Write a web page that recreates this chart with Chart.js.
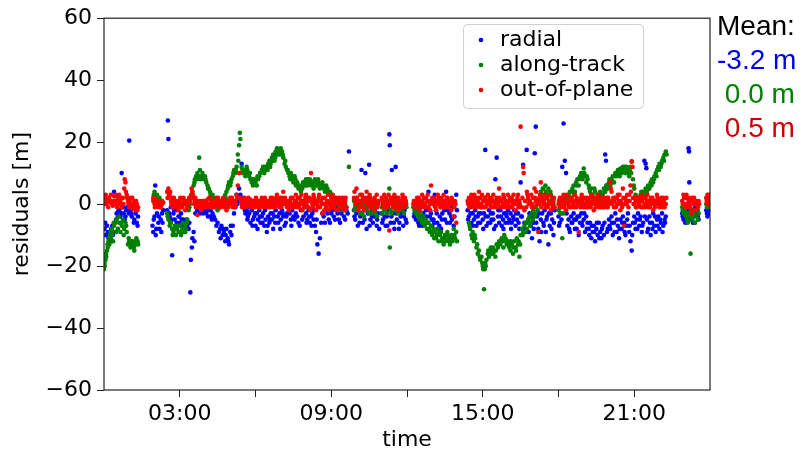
<!DOCTYPE html>
<html>
<head>
<meta charset="utf-8">
<script src="https://cdn.jsdelivr.net/npm/chart.js@4.4.0/dist/chart.umd.min.js"></script>
<style>
html, body { margin: 0; padding: 0; background: #fff; }
#wrap { position: relative; width: 802px; height: 457px; }
#mean { position: absolute; left: 717px; top: 9px; font-family: "Liberation Sans", Arial, sans-serif;
        font-size: 28px; line-height: 34px; white-space: pre; }
</style>
</head>
<body>
<div id="wrap">
  <canvas id="chartcanvas" width="802" height="457"></canvas>
  <div id="mean"></div>
</div>
<script>
// [hour, residual m]
const radialPts = [
  [0.02,-8],[0.08,-10],[0.12,-7],[0.18,-11],[0.22,-9],[0.28,-8],[0.3,-12],[0.35,-10],[0.4,4],[0.45,-9],
  [0.5,-3],[0.55,-4],[0.6,-2],[0.65,-4],[0.7,10],[0.72,-1],[0.78,-3],[0.82,-5],[0.88,-2],[0.92,-1],
  [0.98,-3],[1.0,20.5],[1.05,-2],[1.1,-4],[1.15,-1],[1.2,-5],[1.25,-3],[1.3,-6],[1.35,-4],
  [1.92,-7],[1.95,-9],[2.0,-4],[2.03,6],[2.05,-10],[2.1,-3],[2.15,-6],[2.2,-8],[2.25,-5],[2.3,-3],[2.35,-2],
  [2.53,27],[2.55,21],[2.5,-2],[2.6,-4],[2.65,-1],[2.7,-16.5],[2.75,-3],[2.8,-5],[2.9,-2],[2.95,-4],
  [3.0,-6],[3.05,-3],[3.1,-7],[3.15,-5],[3.2,-8],[3.25,-6],[3.3,-7],[3.35,-8],[3.42,-28.5],[3.44,-18],
  [3.48,-14],[3.5,-11],[3.55,-9],[3.58,-12],[3.65,-1],[3.7,-2],[3.75,0],[3.8,-3],[3.85,-1],[3.9,-2],
  [3.95,1],[4.0,-2],[4.05,-3],[4.1,-1],[4.15,-2],[4.2,-4],[4.3,-3],[4.4,-5],[4.5,-6],[4.6,-8],
  [4.65,-7],[4.7,-10],[4.75,-9],[4.8,-12],[4.85,-8],[4.9,-11],[4.95,-13],[5.0,-9],[5.05,-10],[5.1,-7],
  [5.2,-1],[5.25,3],[5.3,1],[5.35,5],[5.45,13],[5.5,2],[5.55,-1],[5.6,-3],
  [5.65,-2],[5.7,-4],[5.75,-3],[5.8,-6],[5.85,-2],[5.9,-5],[5.95,-4],[6.0,-7],[6.05,-3],[6.1,-5],
  [6.15,-2],[6.2,-6],[6.25,-4],[6.3,-3],[6.35,-7],[6.4,-5],[6.45,-9],[6.5,-4],[6.55,-6],[6.6,-3],
  [6.65,-5],[6.7,-8],[6.75,-4],[6.8,-2],[6.84,16],[6.9,-6],[6.95,-3],
  [7.0,-5],[7.05,-2],[7.1,-4],[7.2,-6],[7.25,-3],[7.3,-1],[7.4,-5],[7.45,-2],[7.5,-4],[7.6,-3],
  [7.7,-6],[7.8,-2],[7.9,-4],[8.0,-3],[8.05,-5],[8.1,-2],[8.15,-6],[8.2,-4],[8.25,-3],[8.3,-5],
  [8.35,-7],[8.4,-9],[8.45,-13],[8.5,-16],[8.55,-11],[8.6,-6],[8.7,-4],[8.8,-2],[8.9,-5],[9.0,-3],
  [9.1,-4],[9.2,-1],[9.3,-5],[9.4,-3],[9.5,-4],[9.6,-2],[9.7,17],
  [9.9,-2],[9.95,-5],[10.0,-3],[10.05,-7],[10.1,-1],[10.15,-4],[10.2,11],[10.25,-6],[10.3,-2],[10.35,10],
  [10.4,-8],[10.45,-3],[10.5,12.7],[10.55,-5],[10.6,-2],[10.65,-6],[10.7,-4],[10.75,-1],[10.8,-7],[10.85,-3],
  [11.0,-3],[11.05,-5],[11.1,-2],[11.15,-7],[11.2,-4],[11.25,-1],[11.3,22.5],[11.32,19],[11.35,-6],[11.4,11],
  [11.45,-3],[11.5,-8],[11.55,12],[11.6,-5],[11.65,-2],[11.7,-6],[11.75,-4],[11.8,-3],[11.85,-7],[11.9,-2],[11.95,-5],
  [12.3,-3],[12.35,-5],[12.4,-2],[12.45,-6],[12.5,-4],[12.55,-1],[12.6,-7],[12.65,-3],[12.7,-5],[12.75,-2],
  [12.8,-6],[12.85,4],[12.9,-4],[12.95,-3],[13.0,-7],[13.05,-5],[13.1,3],[13.15,-2],[13.2,-6],[13.3,-4],
  [13.35,-8],[13.4,-3],[13.5,-5],[13.55,4],[13.6,-2],[13.7,-6],[13.75,-4],[13.8,-1],[13.85,-7],[13.95,3],
  [14.4,-2],[14.45,-4],[14.5,-1],[14.55,-6],[14.6,-3],[14.65,-5],[14.7,-2],[14.75,-7],[14.8,-4],[14.85,-3],
  [14.9,-6],[14.95,-1],[15.0,-5],[15.05,-3],[15.1,17.5],[15.15,-7],[15.2,-4],[15.25,-2],[15.3,-6],[15.35,-5],
  [15.4,-3],[15.45,-8],[15.5,8],[15.55,15],[15.6,-4],[15.65,-6],[15.7,-2],[15.75,-7],[15.8,-5],[15.85,-3],
  [15.9,-6],[15.95,-4],[16.0,-2],[16.05,-5],[16.1,-3],[16.15,-6],[16.2,-4],[16.25,-2],[16.3,-7],[16.35,-5],
  [16.4,-3],[16.45,-8],[16.5,7],[16.55,-4],[16.6,12.7],[16.65,-6],[16.7,-9],[16.74,17.5],[16.8,-5],[16.85,-3],
  [16.9,-7],[16.95,-11],[17.0,-6],[17.06,16.4],[17.1,25],[17.15,-4],[17.2,-8],[17.25,-12],[17.3,-5],[17.35,-3],
  [17.4,-6],[17.45,-2],[17.5,-9],[17.55,-4],[17.6,-13],[17.65,-7],[17.7,-3],[17.75,-5],[17.8,-10],[17.85,-2],
  [18.0,-4],[18.05,-6],[18.1,-3],[18.15,12],[18.2,26],[18.25,14],[18.3,10],[18.35,-7],[18.4,-5],[18.45,-9],
  [18.5,-4],[18.55,-6],[18.6,-3],[18.65,-8],[18.7,-5],[18.75,-4],[18.8,-10],[18.85,-6],[18.9,-3],[18.95,-7],
  [19.0,-5],[19.05,-9],[19.1,-4],[19.15,-6],[19.2,-8],[19.25,-6],[19.3,-11],[19.35,-9],[19.4,-7],[19.45,-12],
  [19.5,-8],[19.55,-10],[19.6,-6],[19.65,-9],[19.7,-11],[19.75,-7],[19.8,-10],[19.85,16],[19.88,14],[19.9,6],[19.95,-8],
  [20.0,-5],[20.05,-8],[20.1,-4],[20.15,-10],[20.2,-6],[20.25,-3],[20.3,-9],[20.35,-7],[20.4,-11],[20.45,-5],
  [20.5,-8],[20.55,-4],[20.6,-6],[20.65,-10],[20.7,-7],[20.75,-3],[20.8,-9],[20.85,-12],[20.9,-15],[20.95,-6],
  [21.0,-4],[21.05,-8],[21.1,-5],[21.15,-3],[21.2,-7],[21.25,-4],[21.3,-9],[21.35,-6],[21.4,14],[21.45,13],
  [21.48,11.6],[21.5,-5],[21.55,-8],[21.6,-4],[21.65,-10],[21.7,-6],[21.75,-3],[21.8,-7],[21.85,-9],[21.9,-5],
  [21.95,-4],[22.0,-8],[22.05,-6],[22.1,-3],[22.15,-7],[22.2,-5],[22.25,-4],
  [22.9,-3],[22.95,-5],[23.0,-2],[23.05,-4],[23.1,-5],[23.15,18],[23.17,17],[23.18,7],[23.2,-3],[23.25,-5],
  [23.3,-2],[23.35,-4],[23.4,-6],[23.45,-3],[23.5,-2],[23.55,-5],
  [23.85,-2],[23.9,-4],[23.95,-1],[23.98,-3]
];
// second sweep through the blue cloud, between the points above
const radialFill = [
  [0.05,-6],[0.15,-9],[0.25,-11],[0.33,-7],[0.38,-9],[0.48,-5],[0.58,-2],[0.68,-3],[0.75,-1],[0.85,-4],
  [0.95,-2],[1.08,-3],[1.18,-6],[1.28,-2],[1.33,-7],
  [1.97,-5],[2.07,-8],[2.17,-4],[2.27,-9],[2.32,-6],
  [2.58,-3],[2.68,-5],[2.78,-2],[2.88,-6],[2.98,-4],[3.08,-5],[3.18,-9],[3.28,-5],[3.38,-6],[3.62,-3],
  [3.72,0],[3.82,-1],[3.92,-3],[4.02,-1],[4.12,-4],[4.22,-2],[4.27,-5],[4.35,-4],[4.45,-7],[4.55,-9],
  [4.62,-11],[4.72,-8],[4.82,-10],[4.92,-12],[5.02,-7],[5.15,-3],[5.28,0],[5.4,3],[5.58,-2],[5.68,-5],
  [5.78,-1],[5.88,-7],[5.98,-3],[6.08,-8],[6.18,-4],[6.28,-6],[6.38,-2],[6.48,-7],[6.58,-5],[6.68,-3],
  [6.78,-6],[6.88,-4],[6.98,-8],[7.08,-3],[7.15,-7],[7.22,-4],[7.35,-3],[7.42,-7],[7.55,-5],[7.65,-4],
  [7.75,-7],[7.85,-5],[7.95,-1],[8.02,-6],[8.12,-4],[8.22,-7],[8.32,-2],[8.42,-5],[8.65,-3],[8.75,-6],
  [8.85,-3],[8.95,-6],[9.05,-2],[9.15,-5],[9.25,-3],[9.35,-6],[9.45,-2],[9.55,-5],[9.65,-3],
  [9.92,-4],[10.02,-1],[10.12,-6],[10.22,-3],[10.32,-5],[10.42,-1],[10.52,-7],[10.62,-4],[10.72,-2],[10.82,-5],[10.9,-8],
  [11.02,-6],[11.12,-4],[11.22,-7],[11.28,-2],[11.38,-4],[11.48,-6],[11.58,-3],[11.68,-8],[11.78,-1],[11.88,-4],[11.98,-6],
  [12.28,-4],[12.38,-1],[12.48,-7],[12.58,-3],[12.68,-6],[12.78,-4],[12.88,-2],[12.98,-5],[13.08,-6],[13.18,-3],
  [13.28,-7],[13.38,-5],[13.48,-2],[13.58,-6],[13.68,-3],[13.78,-5],[13.88,-4],[13.98,-2],
  [14.42,-5],[14.52,-3],[14.62,-7],[14.72,-4],[14.82,-6],[14.92,-3],[15.02,-8],[15.12,-4],[15.22,-6],[15.32,-3],
  [15.42,-5],[15.52,-7],[15.62,-2],[15.72,-4],[15.82,-8],[15.92,-3],[16.02,-6],[16.12,-8],[16.22,-5],[16.32,-3],
  [16.42,-6],[16.52,-4],[16.62,-8],[16.72,-6],[16.82,-9],[16.92,-4],[17.02,-8],[17.12,-6],[17.22,-3],[17.32,-9],
  [17.42,-7],[17.52,-5],[17.62,-3],[17.72,-8],[17.82,-6],
  [18.02,-7],[18.12,-5],[18.32,-3],[18.42,-8],[18.52,-6],[18.62,-5],[18.72,-8],[18.82,-4],[18.92,-6],[19.02,-3],
  [19.12,-8],[19.22,-10],[19.32,-7],[19.42,-9],[19.52,-6],[19.62,-11],[19.72,-8],[19.82,-6],[19.92,-9],
  [20.02,-7],[20.12,-6],[20.22,-9],[20.32,-5],[20.42,-8],[20.52,-6],[20.62,-9],[20.72,-5],[20.82,-7],[20.92,-10],
  [21.02,-6],[21.12,-8],[21.22,-5],[21.32,-7],[21.42,-4],[21.52,-9],[21.62,-6],[21.72,-8],[21.82,-4],[21.92,-7],
  [22.02,-5],[22.12,-9],[22.22,-6],
  [22.92,-4],[23.02,-6],[23.12,-2],[23.22,-4],[23.32,-6],[23.42,-1],[23.52,-4],
  [23.88,-3],[23.93,-2]
];

const alongPts = [
  [0.0,-21],[0.03,-20],[0.06,-18],[0.09,-17],[0.12,-15],[0.15,-14],[0.18,-12],[0.21,-13],[0.24,-10],[0.27,-11],
  [0.3,-8],[0.33,-9],[0.36,-12],[0.4,-7],[0.45,-6],[0.5,-5],[0.55,-8],[0.6,-6],[0.65,-9],[0.7,-7],
  [0.75,-5],[0.8,-8],[0.85,-6],[0.9,-9],[0.95,-13],[1.0,-12],[1.05,-14],[1.1,-13],[1.15,-12],[1.2,-15],
  [1.25,-13],[1.3,-12],[1.35,-13],
  [1.95,2],[2.0,4],[2.05,1],[2.1,3],[2.15,0],[2.2,2],[2.25,-1],[2.3,1],
  [2.5,-3],[2.55,-5],[2.6,-7],[2.65,-6],[2.7,-8],[2.75,-9],[2.8,-7],[2.85,-10],[2.9,-8],[2.95,-9],
  [3.0,-7],[3.05,-10],[3.1,-8],[3.15,-9],[3.2,-7],[3.25,-8],[3.3,-5],[3.35,-2],[3.4,0],[3.45,2],
  [3.5,4],[3.55,6],[3.6,8],[3.65,9],[3.7,10],[3.75,9],[3.77,15],[3.8,11],[3.85,9],[3.9,10],
  [3.95,8],[4.0,9],[4.05,7],[4.1,6],[4.15,5],[4.2,4],[4.25,2],[4.3,3],[4.35,1],[4.4,0],
  [4.45,-1],[4.5,-2],[4.55,0],[4.6,-1],[4.65,1],[4.7,0],[4.75,2],[4.8,3],[4.85,4],[4.9,5],
  [4.95,7],[5.0,6],[5.05,8],[5.1,9],[5.15,11],[5.2,10],[5.25,12],[5.3,16],[5.35,19],[5.38,23],
  [5.4,21],[5.45,12],[5.5,10],[5.55,11],[5.6,9],[5.65,12],[5.7,10],[5.75,9],[5.8,8],[5.85,7],
  [5.9,6],[5.95,8],[6.0,7],[6.05,6],[6.1,8],[6.15,9],[6.2,10],[6.25,11],[6.3,12],[6.35,10],
  [6.4,11],[6.45,12],[6.5,13],[6.55,14],[6.6,13],[6.65,15],[6.7,16],[6.75,14],[6.8,17],[6.85,18],
  [6.9,16],[6.95,17],[7.0,18],[7.05,17],[7.1,15],[7.15,13],[7.2,12],[7.25,11],[7.3,10],[7.35,9],
  [7.4,10],[7.45,8],[7.5,7],[7.55,9],[7.6,6],[7.65,7],[7.7,5],[7.75,6],[7.8,4],[7.85,5],
  [7.9,6],[7.95,7],[8.0,8],[8.05,6],[8.1,7],[8.15,8],[8.2,6],[8.25,7],[8.3,5],[8.35,8],
  [8.4,7],[8.45,6],[8.5,7],[8.55,5],[8.6,6],[8.65,7],[8.7,5],[8.75,4],[8.8,6],[8.85,5],
  [8.9,3],[8.95,4],[9.0,2],[9.05,3],[9.1,1],[9.15,2],[9.2,0],[9.25,1],[9.3,-1],[9.35,0],
  [9.4,-2],[9.45,1],[9.5,-1],[9.55,0],[9.6,-1],[9.7,12],
  [9.9,1],[9.95,-1],[10.0,2],[10.05,-2],[10.1,0],[10.15,-3],[10.2,1],[10.25,-1],[10.3,-4],[10.35,0],
  [10.4,-2],[10.45,2],[10.5,-3],[10.55,-1],[10.6,1],[10.65,-2],[10.7,0],[10.75,-3],[10.8,-1],[10.85,1],
  [11.0,-1],[11.05,1],[11.1,-2],[11.15,0],[11.2,-3],[11.25,1],[11.3,5],[11.32,-14],[11.35,-2],[11.4,0],
  [11.45,-1],[11.5,2],[11.55,-2],[11.6,0],[11.65,-3],[11.7,1],[11.75,-1],[11.8,-2],[11.85,0],[11.9,-1],[11.95,1],
  [12.25,-1],[12.3,-2],[12.35,-3],[12.4,-2],[12.45,-4],[12.5,-5],[12.55,-3],[12.6,-6],[12.65,-4],[12.7,-7],
  [12.75,-5],[12.8,-8],[12.85,-6],[12.9,-9],[12.95,-7],[13.0,-10],[13.05,-8],[13.1,-9],[13.15,-11],[13.2,-8],
  [13.25,-12],[13.3,-10],[13.35,-9],[13.4,-11],[13.45,-13],[13.5,-10],[13.55,-12],[13.6,-9],[13.65,-11],[13.7,-13],
  [13.75,-10],[13.8,-12],[13.85,-8],[13.9,-11],[13.95,-9],
  [14.45,-6],[14.5,-8],[14.55,-10],[14.6,-9],[14.65,-12],[14.7,-11],[14.75,-14],[14.8,-16],[14.85,-15],[14.9,-18],
  [14.95,-17],[15.0,-20],[15.05,-27.5],[15.08,-21],[15.1,-19],[15.15,-18],[15.2,-16],[15.25,-17],[15.3,-15],[15.35,-16],
  [15.4,-14],[15.45,-15],[15.5,-17],[15.55,-13],[15.6,-14],[15.65,-12],[15.7,-13],[15.75,-11],[15.8,-12],[15.85,-10],
  [15.9,-11],[15.95,-13],[16.0,-12],[16.05,-14],[16.1,-15],[16.15,-13],[16.2,-16],[16.25,-12],[16.3,-14],[16.35,-11],
  [16.4,-13],[16.45,-17],[16.5,-10],[16.55,-8],[16.6,-9],[16.65,-7],[16.7,-6],[16.75,-8],[16.8,-5],[16.85,-4],
  [16.9,-6],[16.95,-3],[17.0,-2],[17.05,-4],[17.1,-1],[17.15,1],[17.2,0],[17.25,2],[17.3,4],[17.35,3],
  [17.4,5],[17.45,3],[17.5,4],[17.55,2],[17.6,5],[17.65,1],[17.7,3],[17.75,2],[17.8,0],
  [18.0,-2],[18.05,-1],[18.1,0],[18.15,-11],[18.2,-3],[18.25,1],[18.3,2],[18.35,0],[18.4,3],[18.45,4],
  [18.5,2],[18.55,5],[18.6,6],[18.65,4],[18.7,7],[18.75,8],[18.8,6],[18.85,9],[18.9,10],[18.95,8],
  [19.0,11.5],[19.05,9],[19.1,7],[19.15,8],[19.2,6],[19.25,4],[19.3,5],[19.35,3],[19.4,2],[19.45,4],
  [19.5,1],[19.55,3],[19.6,2],[19.65,4],[19.7,1],[19.75,3],[19.8,5],[19.85,4],[19.9,6],[19.95,5],
  [20.0,7],[20.05,6],[20.1,8],[20.15,9],[20.2,7],[20.25,10],[20.3,9],[20.35,11],[20.4,10],[20.45,11.5],
  [20.5,10],[20.55,12],[20.6,11],[20.65,10],[20.7,12],[20.75,11],[20.8,9],[20.85,12],[20.9,13.7],[20.95,8],
  [21.0,5],[21.05,3],[21.1,1],[21.15,2],[21.2,0],[21.25,3],[21.3,2],[21.35,4],[21.4,3],[21.45,5],
  [21.5,4],[21.55,6],[21.6,5],[21.65,7],[21.7,8],[21.75,7],[21.8,9],[21.85,10],[21.9,11],[21.95,12],
  [22.0,13],[22.05,12],[22.1,14],[22.15,15],[22.2,16],[22.25,17],
  [22.9,-1],[22.95,-3],[23.0,-2],[23.05,-4],[23.1,-5],[23.15,-3],[23.2,-4],[23.23,-16],[23.25,-2],[23.3,-5],
  [23.35,-3],[23.4,-6],[23.45,-4],[23.5,-2],[23.55,-3],
  [23.85,0],[23.9,1],[23.95,-1],[23.98,2]
];
const alongFill = [
  [0.02,-19],[0.08,-16],[0.14,-13],[0.2,-11],[0.26,-9],[0.32,-10],[0.38,-6],[0.48,-9],[0.58,-4],[0.68,-6],
  [0.78,-10],[0.88,-7],[0.98,-11],[1.08,-12],[1.18,-14],[1.28,-11],[1.33,-12],
  [1.97,3],[2.07,2],[2.17,1],[2.27,0],
  [2.52,-4],[2.62,-6],[2.72,-10],[2.82,-8],[2.92,-7],[3.02,-9],[3.12,-6],[3.22,-9],[3.28,-6],[3.38,-1],
  [3.48,3],[3.58,7],[3.68,8],[3.82,8],[3.92,9],[4.02,8],[4.12,5],[4.22,3],[4.32,2],[4.42,-1],
  [4.52,1],[4.62,0],[4.72,1],[4.82,2],[4.92,6],[5.02,7],[5.12,10],[5.22,11],[5.32,14],[5.48,11],
  [5.58,10],[5.68,11],[5.78,10],[5.88,8],[5.98,7],[6.08,9],[6.18,10],[6.28,11],[6.38,12],[6.48,11],
  [6.58,12],[6.68,14],[6.78,15],[6.88,17],[6.98,16],[7.08,16],[7.18,14],[7.28,11],[7.38,8],[7.48,9],
  [7.58,8],[7.68,6],[7.78,5],[7.88,7],[7.98,6],[8.08,8],[8.18,7],[8.28,6],[8.38,6],[8.48,8],
  [8.58,6],[8.68,6],[8.78,5],[8.88,4],[8.98,3],[9.08,2],[9.18,1],[9.28,0],[9.38,1],[9.48,0],[9.58,-2],
  [9.92,-2],[10.02,0],[10.12,-1],[10.22,-3],[10.32,1],[10.42,-1],[10.52,0],[10.62,-3],[10.72,-1],[10.82,-4],
  [11.02,-3],[11.12,0],[11.22,-1],[11.38,-3],[11.48,0],[11.58,-1],[11.68,-2],[11.78,1],[11.88,-3],[11.98,-1],
  [12.28,0],[12.38,-1],[12.48,-3],[12.58,-5],[12.68,-6],[12.78,-6],[12.88,-8],[12.98,-9],[13.08,-11],[13.18,-10],
  [13.28,-9],[13.38,-12],[13.48,-11],[13.58,-10],[13.68,-12],[13.78,-11],[13.88,-10],[13.98,-12],
  [14.48,-7],[14.58,-11],[14.68,-10],[14.78,-13],[14.88,-17],[14.98,-19],[15.02,-21],[15.12,-20],[15.22,-15],[15.32,-14],
  [15.42,-16],[15.52,-15],[15.62,-13],[15.72,-12],[15.82,-14],[15.92,-12],[16.02,-13],[16.12,-12],[16.22,-14],[16.32,-15],
  [16.42,-12],[16.48,-13],[16.58,-10],[16.68,-9],[16.78,-6],[16.88,-7],[16.98,-5],[17.08,-3],[17.18,-2],[17.28,1],
  [17.38,5],[17.48,6],[17.58,3],[17.68,4],[17.78,1],
  [18.08,-3],[18.22,-1],[18.32,0],[18.42,1],[18.52,4],[18.62,3],[18.72,6],[18.82,8],[18.92,9],[19.02,10],
  [19.12,9],[19.22,5],[19.32,3],[19.42,5],[19.52,2],[19.62,3],[19.72,2],[19.82,4],[19.92,5],
  [20.02,8],[20.12,7],[20.22,9],[20.32,10],[20.42,9],[20.52,11],[20.62,12],[20.72,10],[20.82,11],[20.88,10],
  [20.98,6],[21.08,2],[21.18,1],[21.28,4],[21.38,2],[21.48,4],[21.58,5],[21.68,6],[21.78,8],[21.88,9],
  [21.98,11],[22.08,13],[22.18,14],[22.28,16],
  [22.92,-2],[23.02,-3],[23.12,-6],[23.22,-3],[23.32,-4],[23.42,-2],[23.52,-5],
  [23.88,-1],[23.93,1]
];

const outPts = [
  [0.0,1],[0.05,2],[0.1,0],[0.15,1.5],[0.2,2],[0.25,0.5],[0.3,1],[0.35,-0.5],[0.4,2.5],[0.45,1],
  [0.5,0],[0.55,2],[0.6,3],[0.65,1],[0.7,-1],[0.75,2],[0.8,5],[0.82,8],[0.85,7],[0.9,3],
  [0.95,1],[1.0,-1],[1.05,2],[1.1,0],[1.15,-1.5],[1.2,1],[1.25,-2],[1.3,0],[1.35,-1],
  [1.95,1],[2.0,0],[2.05,1.5],[2.1,-0.5],[2.15,0.5],[2.2,1],[2.25,-1],[2.3,0],[2.35,0.5],
  [2.5,4],[2.55,5],[2.6,3],[2.65,1],[2.7,2],[2.75,0],[2.8,1],[2.85,-1],[2.9,0.5],[2.95,-2],
  [3.0,1],[3.05,0],[3.1,-1],[3.15,2],[3.2,0],[3.25,1],[3.3,-1],[3.35,0.5],[3.4,2],[3.45,3],
  [3.5,4],[3.55,2],[3.6,1],[3.65,-1],[3.7,-3.5],[3.75,0],[3.8,1],[3.85,-2],[3.9,0],[3.95,1],
  [4.0,-1],[4.05,0.5],[4.1,1.5],[4.15,-0.5],[4.2,0],[4.25,1],[4.3,-1],[4.35,0],[4.4,1],[4.45,2],
  [4.5,0],[4.55,-1],[4.6,1],[4.65,0],[4.7,-0.5],[4.75,1],[4.8,0],[4.85,-2],[4.9,1],[4.95,0],
  [5.0,2],[5.05,1],[5.1,-1],[5.15,0],[5.2,1],[5.25,3],[5.3,6],[5.35,10],[5.4,2],[5.45,0],
  [5.5,1],[5.55,-1],[5.6,0.5],[5.65,1],[5.7,-0.5],[5.75,0],[5.8,1.5],[5.85,0],[5.9,-1],[5.95,1],
  [6.0,0],[6.05,0.5],[6.1,-1],[6.15,1],[6.2,0],[6.25,2],[6.3,0.5],[6.35,-0.5],[6.4,1],[6.45,0],
  [6.5,-1],[6.55,1],[6.6,2],[6.65,0],[6.7,-1],[6.75,1],[6.8,0],[6.85,3],[6.9,1],[6.95,-1],
  [7.0,0],[7.05,2],[7.1,4],[7.15,1],[7.2,0],[7.25,-1],[7.3,1],[7.35,0],[7.4,2],[7.45,-1],
  [7.5,0],[7.55,1],[7.6,3],[7.65,-1],[7.7,0],[7.75,2],[7.8,1],[7.85,-2],[7.9,0],[7.95,1],
  [8.0,3],[8.05,1],[8.1,-1],[8.15,2],[8.2,10],[8.25,0],[8.3,3],[8.35,1],[8.4,-2],[8.45,0],
  [8.5,2],[8.55,-1],[8.6,1],[8.65,-3],[8.7,0],[8.75,2],[8.8,-1],[8.85,1],[8.9,-2],[8.95,0],
  [9.0,1],[9.05,3],[9.1,-1],[9.15,0],[9.2,2],[9.25,-2],[9.3,1],[9.35,0],[9.4,-1],[9.45,2],
  [9.5,0],[9.55,1],[9.6,-1],
  [9.9,2],[9.95,0],[10.0,5],[10.05,1],[10.1,-1],[10.15,3],[10.2,0],[10.25,2],[10.3,-2],[10.35,1],
  [10.4,4],[10.45,0],[10.5,-1],[10.55,2],[10.6,0],[10.65,1],[10.7,-2],[10.75,0],[10.8,3],[10.85,1],
  [11.0,2],[11.05,0],[11.1,3],[11.15,-1],[11.2,1],[11.25,0],[11.3,-8.5],[11.35,2],[11.4,1],[11.45,-1],
  [11.5,3],[11.55,0],[11.6,2],[11.65,-2],[11.7,1],[11.75,0],[11.8,-1],[11.85,2],[11.9,0],[11.95,1],
  [12.25,0],[12.3,1],[12.35,-1],[12.4,2],[12.45,0],[12.5,-2],[12.55,1],[12.6,3],[12.65,0],[12.7,-1],
  [12.75,2],[12.8,1],[12.85,-1],[12.9,0],[12.95,6],[13.0,2],[13.05,0],[13.1,1],[13.15,-2],[13.2,0],
  [13.25,2],[13.3,1],[13.35,-1],[13.4,0],[13.45,3],[13.5,1],[13.55,-1],[13.6,2],[13.65,0],[13.7,1],
  [13.75,-2],[13.8,0],[13.85,-4],[13.9,1],[13.95,-6],
  [14.4,1],[14.45,2],[14.5,0],[14.55,3],[14.6,1],[14.65,-1],[14.7,2],[14.75,0],[14.8,1],[14.85,4],
  [14.9,2],[14.95,0],[15.0,1],[15.05,-1],[15.1,2],[15.15,0],[15.2,3],[15.25,1],[15.3,0],[15.35,2],
  [15.4,-1],[15.45,1],[15.5,0],[15.55,2],[15.6,1],[15.65,5],[15.7,-1],[15.75,1],[15.8,0],[15.85,2],
  [15.9,-1],[15.95,0],[16.0,3],[16.05,1],[16.1,-1],[16.15,2],[16.2,0],[16.25,1],[16.3,-2],[16.35,0],
  [16.4,3],[16.45,1],[16.5,25],[16.55,-1],[16.6,12],[16.62,10],[16.65,-2],[16.7,1],[16.75,4],[16.8,2],
  [16.9,0],[16.95,-1],[17.0,2],[17.05,5],[17.1,1],[17.15,0],[17.2,-9],[17.25,2],[17.3,7],[17.35,1],
  [17.4,0],[17.45,3],[17.5,-1],[17.55,2],[17.6,0],[17.65,1],[17.7,-2],[17.75,0],[17.8,1],[17.85,-1],
  [18.0,0],[18.05,2],[18.1,-1],[18.15,1],[18.2,3],[18.25,0],[18.3,-2],[18.35,1],[18.4,0],[18.45,2],
  [18.5,-1],[18.55,1],[18.6,0],[18.65,3],[18.7,-1],[18.75,1],[18.8,-9],[18.85,0],[18.9,2],[18.95,1],
  [19.0,-1],[19.05,0],[19.1,2],[19.15,-1],[19.2,1],[19.25,0],[19.3,3],[19.35,1],[19.4,-2],[19.45,0],
  [19.5,2],[19.55,1],[19.6,-1],[19.65,0],[19.7,2],[19.75,-1],[19.8,1],[19.85,0],[19.9,2],[19.95,-1],
  [20.0,0],[20.05,7],[20.1,4],[20.15,1],[20.2,-1],[20.25,2],[20.3,0],[20.35,3],[20.4,1],[20.45,-2],
  [20.5,0],[20.55,5],[20.6,-7],[20.65,2],[20.7,0],[20.75,1],[20.8,3],[20.85,6],[20.9,13.8],[20.93,12],
  [20.95,2],[21.0,0],[21.05,1],[21.1,-1],[21.15,2],[21.2,0],[21.25,1],[21.3,3],[21.35,-1],[21.4,0],
  [21.45,2],[21.5,1],[21.55,-1],[21.6,0],[21.65,2],[21.7,1],[21.75,-2],[21.8,0],[21.85,1],[21.9,3],
  [21.95,0],[22.0,-1],[22.05,1],[22.1,0],[22.15,2],[22.2,-1],[22.25,0],
  [22.9,1],[22.95,3],[23.0,0],[23.05,2],[23.1,-1],[23.15,1],[23.2,0],[23.25,-3],[23.3,2],[23.35,0],
  [23.4,1],[23.45,-2],[23.5,0],[23.55,1],
  [23.85,2],[23.9,3],[23.95,1],[23.98,2]
];
const outFill = [
  [0.02,0],[0.07,3],[0.12,1],[0.17,-1],[0.22,1],[0.27,3],[0.32,0],[0.42,1],[0.47,3],[0.52,-1],
  [0.57,1],[0.62,0],[0.67,2],[0.77,0],[0.87,4],[0.92,2],[0.97,0],[1.02,1],[1.07,-1],[1.12,2],
  [1.17,0],[1.22,-1],[1.27,1],[1.32,-2],
  [1.97,2],[2.02,-1],[2.07,0],[2.12,1],[2.17,-1],[2.22,0],[2.27,1],
  [2.52,2],[2.57,3],[2.62,4],[2.67,0],[2.72,-1],[2.77,2],[2.82,0],[2.87,1],[2.92,-1],[2.97,0],
  [3.02,2],[3.07,-1],[3.12,0],[3.17,1],[3.22,-2],[3.27,0],[3.32,1],[3.37,2],[3.42,1],[3.47,5],
  [3.52,3],[3.57,0],[3.62,2],[3.67,0],[3.72,1],[3.77,-1],[3.82,0],[3.87,1],[3.92,-1],[3.97,0],
  [4.02,1],[4.07,-1],[4.12,0],[4.17,2],[4.22,-1],[4.27,0],[4.32,1],[4.37,-1],[4.42,0],[4.47,1],
  [4.52,2],[4.57,0],[4.62,-1],[4.67,1],[4.72,2],[4.77,-1],[4.82,1],[4.87,0],[4.92,-1],[4.97,1],
  [5.02,0],[5.07,2],[5.12,1],[5.17,-1],[5.22,0],[5.27,2],[5.42,1],[5.47,-1],[5.52,0],[5.57,2],
  [5.62,-1],[5.67,0],[5.72,2],[5.77,1],[5.82,-1],[5.87,0],[5.92,1],[5.97,-1],[6.02,2],[6.07,0],
  [6.12,1],[6.17,-1],[6.22,0],[6.27,1],[6.32,-1],[6.37,2],[6.42,0],[6.47,1],[6.52,0],[6.57,-1],
  [6.62,1],[6.67,2],[6.72,0],[6.77,-1],[6.82,2],[6.87,0],[6.92,1],[6.97,2],[7.02,-1],[7.07,1],
  [7.12,0],[7.17,2],[7.22,1],[7.27,0],[7.32,-2],[7.37,1],[7.42,0],[7.47,2],[7.52,-1],[7.57,0],
  [7.62,1],[7.67,2],[7.72,-1],[7.77,0],[7.82,3],[7.87,1],[7.92,-1],[7.97,2],[8.02,0],[8.07,2],
  [8.12,1],[8.17,-2],[8.22,1],[8.27,-1],[8.32,2],[8.37,0],[8.42,1],[8.47,-1],[8.52,3],[8.57,1],
  [8.62,0],[8.67,2],[8.72,-2],[8.77,0],[8.82,1],[8.87,3],[8.92,0],[8.97,-1],[9.02,2],[9.07,0],
  [9.12,1],[9.17,-2],[9.22,1],[9.27,0],[9.32,2],[9.37,-1],[9.42,1],[9.47,0],[9.52,-2],[9.57,2],
  [9.92,4],[9.97,1],[10.02,2],[10.07,-2],[10.12,1],[10.17,0],[10.22,3],[10.27,-1],[10.32,1],[10.37,2],
  [10.42,0],[10.47,1],[10.52,3],[10.57,-1],[10.62,1],[10.67,0],[10.72,2],[10.77,1],[10.82,-1],[10.87,0],
  [11.02,1],[11.07,-1],[11.12,0],[11.17,2],[11.22,-1],[11.27,3],[11.37,0],[11.42,2],[11.47,1],[11.52,-1],
  [11.57,1],[11.62,0],[11.67,2],[11.72,-1],[11.77,1],[11.82,3],[11.87,-1],[11.92,2],[11.97,0],
  [12.27,1],[12.32,-1],[12.37,0],[12.42,1],[12.47,2],[12.52,0],[12.57,-1],[12.62,1],[12.67,2],[12.72,0],
  [12.77,-1],[12.82,3],[12.87,1],[12.92,-2],[12.97,1],[13.02,0],[13.07,2],[13.12,-1],[13.17,1],[13.22,3],
  [13.27,0],[13.32,-1],[13.37,2],[13.42,1],[13.47,-1],[13.52,0],[13.57,2],[13.62,-1],[13.67,1],[13.72,0],
  [13.77,2],[13.82,1],[13.87,-1],[13.92,0],
  [14.42,0],[14.47,-1],[14.52,1],[14.57,2],[14.62,0],[14.67,3],[14.72,1],[14.77,-1],[14.82,2],[14.87,0],
  [14.92,-1],[14.97,3],[15.02,1],[15.07,2],[15.12,-1],[15.17,1],[15.22,0],[15.27,2],[15.32,-1],[15.37,1],
  [15.42,3],[15.47,0],[15.52,-1],[15.57,1],[15.62,0],[15.67,2],[15.72,1],[15.77,-1],[15.82,3],[15.87,0],
  [15.92,1],[15.97,-1],[16.02,0],[16.07,2],[16.12,1],[16.17,-1],[16.22,3],[16.27,0],[16.32,1],[16.37,2],
  [16.42,-1],[16.47,0],[16.57,2],[16.67,1],[16.72,-1],[16.77,3],[16.82,0],[16.87,1],[16.92,3],[16.97,0],
  [17.02,-1],[17.07,2],[17.12,4],[17.17,1],[17.22,0],[17.27,3],[17.32,-1],[17.37,2],[17.42,1],[17.47,0],
  [17.52,2],[17.57,-1],[17.62,1],[17.67,3],[17.72,0],[17.77,-1],[17.82,2],
  [18.02,1],[18.07,-1],[18.12,0],[18.17,2],[18.22,-1],[18.27,1],[18.32,3],[18.37,0],[18.42,-1],[18.47,1],
  [18.52,2],[18.57,0],[18.62,-1],[18.67,1],[18.72,2],[18.77,0],[18.82,1],[18.87,-1],[18.92,3],[18.97,0],
  [19.02,2],[19.07,-1],[19.12,1],[19.17,0],[19.22,2],[19.27,-1],[19.32,0],[19.37,2],[19.42,1],[19.47,-1],
  [19.52,0],[19.57,3],[19.62,1],[19.67,-1],[19.72,0],[19.77,2],[19.82,-1],[19.87,1],[19.92,0],[19.97,2],
  [20.02,1],[20.07,5],[20.12,0],[20.17,2],[20.22,1],[20.27,-1],[20.32,2],[20.37,0],[20.42,3],[20.47,1],
  [20.52,-1],[20.57,2],[20.62,0],[20.67,1],[20.72,3],[20.77,-1],[20.82,1],[20.87,4],[20.97,0],[21.02,2],
  [21.07,-1],[21.12,1],[21.17,0],[21.22,2],[21.27,-1],[21.32,1],[21.37,2],[21.42,-1],[21.47,0],[21.52,3],
  [21.57,1],[21.62,-1],[21.67,0],[21.72,2],[21.77,1],[21.82,-1],[21.87,0],[21.92,2],[21.97,1],[22.02,0],
  [22.07,2],[22.12,-1],[22.17,1],[22.22,0],[22.27,2],
  [22.92,0],[22.97,2],[23.02,-1],[23.07,3],[23.12,0],[23.17,2],[23.22,-1],[23.27,1],[23.32,-2],[23.37,2],
  [23.42,0],[23.47,1],[23.52,-1],[23.57,0],
  [23.87,1],[23.92,0],[23.97,3]
];

const seriesNames = ['radial', 'along-track', 'out-of-plane'];
const seriesColors = ['#0000ff', '#008000', '#ff0000'];
const meanValues = ['-3.2', ' 0.0', ' 0.5'];
const meanColors = ['#0000ee', '#008000', '#d00000'];
const xTickLabels = ['03:00', '09:00', '15:00', '21:00'];

const FONT = 'DejaVu Sans';

function toXY(pts) {
  return pts.map(p => ({x: p[0], y: p[1]}));
}

// closed frame + legend box inside the plot, like matplotlib
const framePlugin = {
  id: 'frame',
  afterDatasetsDraw(chart) {
    const a = chart.chartArea;
    const c = chart.ctx;
    c.save();
    c.strokeStyle = '#222';
    c.lineWidth = 1.2;
    c.strokeRect(a.left, a.top, a.right - a.left, a.bottom - a.top);

    c.fillStyle = 'rgba(255,255,255,0.85)';
    c.strokeStyle = '#d0d0d0';
    c.lineWidth = 1;
    c.beginPath();
    c.roundRect(463.5, 24.5, 180, 84, 4);
    c.fill();
    c.stroke();
    c.font = '22px "' + FONT + '"';
    c.textBaseline = 'middle';
    c.textAlign = 'left';
    chart.data.datasets.forEach((ds, i) => {
      const y = 40 + i * 25;
      c.fillStyle = ds.backgroundColor;
      c.beginPath();
      c.arc(481, y, 2.3, 0, Math.PI * 2);
      c.fill();
      c.fillStyle = '#000';
      c.fillText(ds.label, 500, y);
    });
    c.restore();
  }
};

const ctx = document.getElementById('chartcanvas').getContext('2d');

const seriesPts = [radialPts.concat(radialFill), alongPts.concat(alongFill), outPts.concat(outFill)];
const datasets = seriesPts.map((pts, i) => ({
  label: seriesNames[i],
  data: toXY(pts),
  backgroundColor: seriesColors[i],
  borderColor: seriesColors[i],
  pointRadius: 2.3,
  borderWidth: 0,
  order: 2 - i   // later series painted on top
}));

const chart = new Chart(ctx, {
  type: 'scatter',
  data: { datasets: datasets },
  options: {
    responsive: false,
    animation: false,
    devicePixelRatio: 1,
    layout: { padding: { left: 0, right: 92, top: 15, bottom: 0 } },
    plugins: { legend: { display: false }, tooltip: { enabled: false } },
    scales: {
      x: {
        type: 'linear',
        min: 0,
        max: 24,
        border: { display: false },
        grid: { drawOnChartArea: false, tickLength: 7, color: '#222', lineWidth: 1 },
        ticks: {
          stepSize: 3,
          autoSkip: false,
          maxRotation: 0,
          padding: 4,
          color: '#000',
          font: { family: FONT, size: 22 },
          callback: v => {
            if (v <= 0 || v >= 24) return null;
            const lab = String(v).padStart(2, '0') + ':00';
            return xTickLabels.includes(lab) ? lab : '';
          }
        },
        title: { display: true, text: 'time', color: '#000', font: { family: FONT, size: 22 }, padding: { top: 0, bottom: 4 } },
        afterFit: s => { s.height = 67; }
      },
      y: {
        min: -60,
        max: 60,
        border: { display: false },
        grid: { drawOnChartArea: false, tickLength: 7, color: '#222', lineWidth: 1 },
        ticks: {
          stepSize: 20,
          padding: 5,
          color: '#000',
          font: { family: FONT, size: 22 },
          callback: v => (v < 0 ? '\u2212' + Math.abs(v) : String(v))
        },
        title: { display: true, text: 'residuals [m]', color: '#000', font: { family: FONT, size: 22 }, padding: { top: 9, bottom: 0 } },
        afterFit: s => { s.width = 104; }
      }
    }
  },
  plugins: [framePlugin]
});

// mean column on the right
const meanDiv = document.getElementById('mean');
const head = document.createElement('div');
head.textContent = 'Mean:';
meanDiv.appendChild(head);
meanValues.forEach((m, i) => {
  const d = document.createElement('div');
  d.textContent = m + ' m';
  d.style.color = meanColors[i];
  meanDiv.appendChild(d);
});
</script>
</body>
</html>
